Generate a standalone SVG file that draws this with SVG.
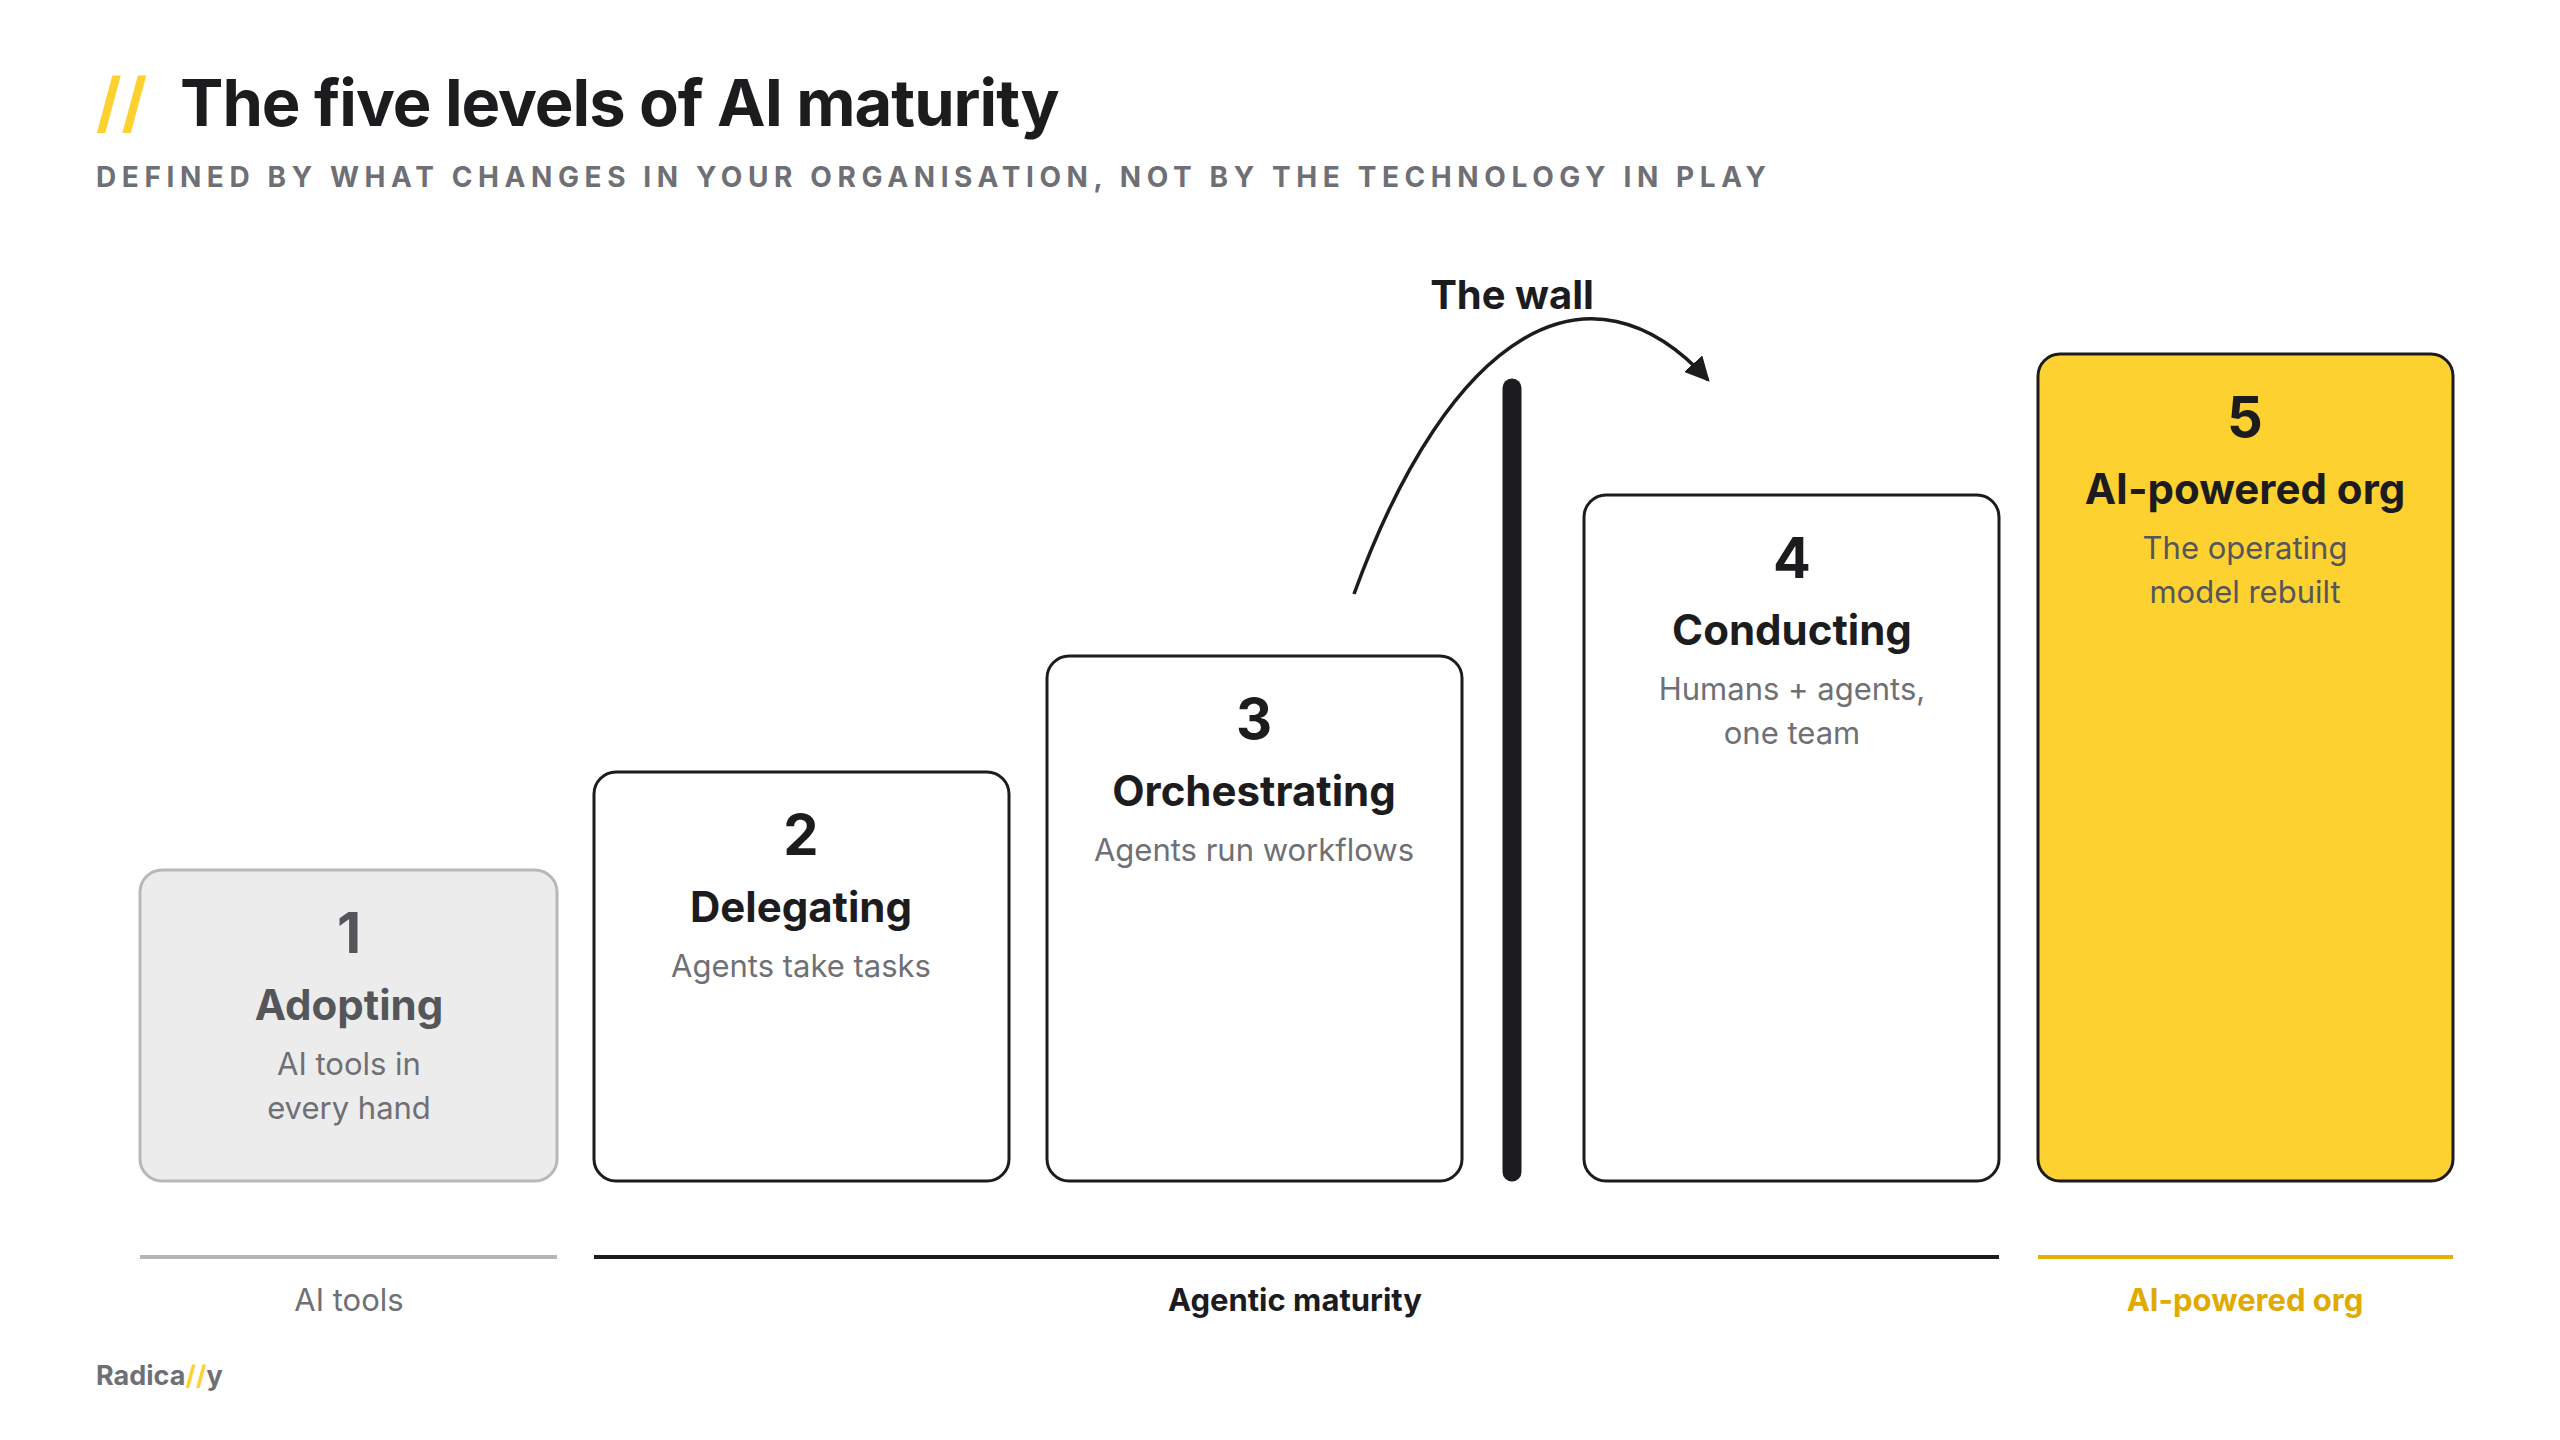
<svg xmlns="http://www.w3.org/2000/svg" width="2560" height="1440" viewBox="0 0 2560 1440">
<style>
text{font-family:Inter,"Liberation Sans",sans-serif}
.box{stroke:#1c1c1f;stroke-width:3;fill:#fff}
.num{font-size:56px;font-weight:700;fill:#1c1c1f;text-anchor:middle}
.ttl{font-size:42px;font-weight:700;fill:#1c1c1f;text-anchor:middle}
.sub{font-size:31px;fill:#6f7075;text-anchor:middle}
.lbl{font-size:31px;text-anchor:middle}
</style>
<defs><marker id="ah" viewBox="0 0 10 10" refX="9" refY="5" markerWidth="7" markerHeight="7" orient="auto"><path d="M0,0 L10,5 L0,10 z" fill="#1c1c1f"/></marker></defs>
<rect width="2560" height="1440" fill="#fff"/>
<g id="header">
<text x="96" y="126" font-size="66" font-weight="700" fill="#fdd130">//</text>
<text x="180" y="126" font-size="65" font-weight="700" fill="#1c1c1f" letter-spacing="-1">The five levels of AI maturity</text>
<text x="96" y="187" font-size="28" font-weight="700" fill="#6f7075" letter-spacing="5.6">DEFINED BY WHAT CHANGES IN YOUR ORGANISATION, NOT BY THE TECHNOLOGY IN PLAY</text>
</g>
<g id="level1"><rect x="140" y="870" width="417" height="311" rx="22" fill="#ececec" stroke="#b8b8b8" stroke-width="3"/>
<text class="num" x="349" y="953" style="fill:#55565a">1</text><text class="ttl" x="349" y="1020" style="fill:#55565a">Adopting</text>
<text class="sub" x="349" y="1075">AI tools in</text><text class="sub" x="349" y="1119">every hand</text></g>
<g id="level2"><rect class="box" x="594" y="772" width="415" height="409" rx="22"/>
<text class="num" x="801" y="855">2</text><text class="ttl" x="801" y="922">Delegating</text><text class="sub" x="801" y="977">Agents take tasks</text></g>
<g id="level3"><rect class="box" x="1047" y="656" width="415" height="525" rx="22"/>
<text class="num" x="1254" y="739">3</text><text class="ttl" x="1254" y="806">Orchestrating</text><text class="sub" x="1254" y="861">Agents run workflows</text></g>
<g id="level4"><rect class="box" x="1584" y="495" width="415" height="686" rx="22"/>
<text class="num" x="1792" y="578">4</text><text class="ttl" x="1792" y="645">Conducting</text><text class="sub" x="1792" y="700">Humans + agents,</text><text class="sub" x="1792" y="744">one team</text></g>
<g id="level5"><rect class="box" x="2038" y="354" width="415" height="827" rx="22" style="fill:#fdd130"/>
<text class="num" x="2245" y="437">5</text><text class="ttl" x="2245" y="504">AI-powered org</text><text class="sub" x="2245" y="559" style="fill:#55565a">The operating</text><text class="sub" x="2245" y="603" style="fill:#55565a">model rebuilt</text></g>
<g id="wall"><line x1="1512" y1="388" x2="1512" y2="1172" stroke="#1c1c1f" stroke-width="19" stroke-linecap="round"/>
<text x="1512" y="309" font-size="40" font-weight="700" fill="#1c1c1f" text-anchor="middle">The wall</text></g>
<g id="connectors"><path d="M1354,594 C1450,330 1590,250 1708,380" fill="none" stroke="#1c1c1f" stroke-width="3.5" marker-end="url(#ah)"/></g>
<g id="footer">
<line x1="140" y1="1257" x2="557" y2="1257" stroke="#b5b5b8" stroke-width="4"/>
<line x1="594" y1="1257" x2="1999" y2="1257" stroke="#1c1c1f" stroke-width="4"/>
<line x1="2038" y1="1257" x2="2453" y2="1257" stroke="#e6b000" stroke-width="4"/>
<text class="lbl" x="349" y="1311" fill="#6f7075">AI tools</text>
<text class="lbl" x="1295" y="1311" fill="#1c1c1f" font-weight="700">Agentic maturity</text>
<text class="lbl" x="2245" y="1311" fill="#e0aa00" font-weight="700">AI-powered org</text>
<text x="96" y="1385" font-size="27" font-weight="700" fill="#6f7075">Radica<tspan fill="#fdd130">//</tspan>y</text>
</g>
</svg>
